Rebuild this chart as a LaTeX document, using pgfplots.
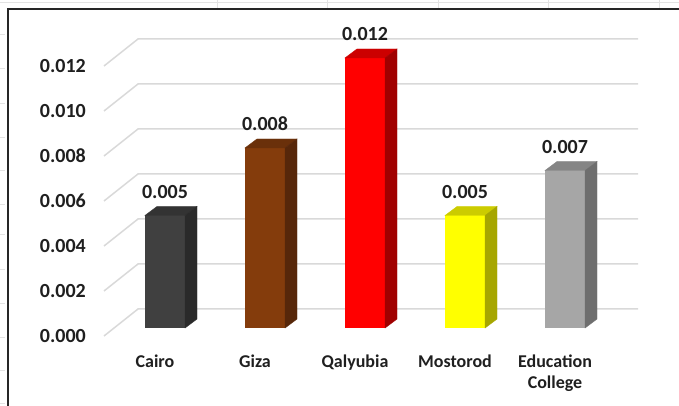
\documentclass[border=0pt]{standalone}
\usepackage{pgfplots}
\pgfplotsset{compat=1.18}
\usepackage{pgfplotstable}
\usepackage{fontspec}
\setmainfont{Carlito}

\definecolor{cairoF}{HTML}{404040}
\definecolor{cairoT}{HTML}{333333}
\definecolor{cairoS}{HTML}{2A2A2A}
\definecolor{gizaF}{HTML}{843C0C}
\definecolor{gizaT}{HTML}{6A300A}
\definecolor{gizaS}{HTML}{57270A}
\definecolor{qalF}{HTML}{FF0000}
\definecolor{qalT}{HTML}{CC0000}
\definecolor{qalS}{HTML}{A00000}
\definecolor{mosF}{HTML}{FFFF00}
\definecolor{mosT}{HTML}{CCCC00}
\definecolor{mosS}{HTML}{A6A600}
\definecolor{eduF}{HTML}{A6A6A6}
\definecolor{eduT}{HTML}{858585}
\definecolor{eduS}{HTML}{6E6E6E}
\definecolor{gridc}{HTML}{D9D9D9}
\definecolor{txt}{HTML}{1F1F1F}
\definecolor{frame}{HTML}{262626}
\definecolor{cell}{HTML}{E3E3E3}

\pgfplotstableread{
x y
0 0.005
}\cairo
\pgfplotstableread{
x y
1 0.008
}\giza
\pgfplotstableread{
x y
2 0.012
}\qalyubia
\pgfplotstableread{
x y
3 0.005
}\mostorod
\pgfplotstableread{
x y
4 0.007
}\education

\pgfdeclareplotmark{nothing}{}

\pgfplotsset{
  front/.style={ybar, bar width=40pt, bar shift=0pt, fill=#1, draw=none,
    nodes near coords,
    every node near coord/.append style={anchor=south, inner sep=0pt, yshift=17pt,
      font=\bfseries\fontsize{20}{24}\selectfont, text=txt}},
  depth/.style 2 args={only marks, mark=nothing, scatter, point meta=y,
    visualization depends on={y \as \rawy},
    scatter/@pre marker code/.code={%
      \pgfkeys{/pgf/fpu=true, /pgf/fpu/output format=fixed}%
      \pgfmathparse{\rawy*22500}%
      \let\hh=\pgfmathresult
      \pgfkeys{/pgf/fpu=false}%
      \fill[#1] (-20pt,0pt) -- (20pt,0pt) -- (32pt,9pt) -- (-8pt,9pt) -- cycle;
      \fill[#2] (20pt,0pt) -- (32pt,9pt) -- (32pt,9pt-\hh pt) -- (20pt,-\hh pt) -- cycle;
    },
    scatter/@post marker code/.code={},
  },
}

\begin{document}
\begin{tikzpicture}[x=1pt,y=1pt]
\useasboundingbox (0,0) rectangle (679,406);
% spreadsheet background
\draw[cell, line width=1pt] (0,403) -- (679,403);
\foreach \cx in {217,327,438,548,659} \draw[cell, line width=1pt] (\cx,397) -- (\cx,406);
\foreach \ry in {34,68,103,137,170,204,234,269,303,337,370,403} \draw[cell, line width=0.8pt] (0,406-\ry) -- (5,406-\ry);
\draw[frame, line width=1.5pt] (8,0) -- (8,397) -- (679,397);

\begin{axis}[
  at={(114pt,78pt)}, anchor=south west,
  scale only axis, width=500pt, height=270pt,
  xmin=-0.51, xmax=4.49, ymin=0, ymax=0.012,
  clip=false,
  axis line style={draw=none},
  major tick length=0pt,
  scaled y ticks=false,
  ytick={0,0.002,0.004,0.006,0.008,0.010,0.012},
  xtick={0,1,2,3,4},
  xticklabels={Cairo, Giza, Qalyubia, Mostorod, {Education\\College}},
  /pgf/number format/.cd, fixed, fixed zerofill, precision=3, assume math mode=true,
  /pgfplots/.cd,
  yticklabel style={font=\bfseries\fontsize{20}{24}\selectfont, text=txt,
    anchor=east, inner sep=0pt, xshift=-28pt, yshift=-8pt},
  xticklabel style={font=\bfseries\fontsize{18}{21}\selectfont, text=txt,
    align=center, anchor=north, inner sep=0pt, xshift=-10pt, yshift=-27pt},
]
\pgfplotsinvokeforeach{0,0.002,0.004,0.006,0.008,0.010,0.012}{
  \draw[gridc, line width=1.5pt]
    ([shift={(-10pt,-8pt)}]axis cs:-0.51,#1) --
    ([shift={(24pt,19pt)}]axis cs:-0.51,#1) --
    ([shift={(24pt,19pt)}]axis cs:4.49,#1);
}
\addplot[depth={cairoT}{cairoS}] table[x=x,y=y] {\cairo};
\addplot[front=cairoF] table[x=x,y=y] {\cairo};
\addplot[depth={gizaT}{gizaS}] table[x=x,y=y] {\giza};
\addplot[front=gizaF] table[x=x,y=y] {\giza};
\addplot[depth={qalT}{qalS}] table[x=x,y=y] {\qalyubia};
\addplot[front=qalF] table[x=x,y=y] {\qalyubia};
\addplot[depth={mosT}{mosS}] table[x=x,y=y] {\mostorod};
\addplot[front=mosF] table[x=x,y=y] {\mostorod};
\addplot[depth={eduT}{eduS}] table[x=x,y=y] {\education};
\addplot[front=eduF] table[x=x,y=y] {\education};
\end{axis}
\end{tikzpicture}
\end{document}
